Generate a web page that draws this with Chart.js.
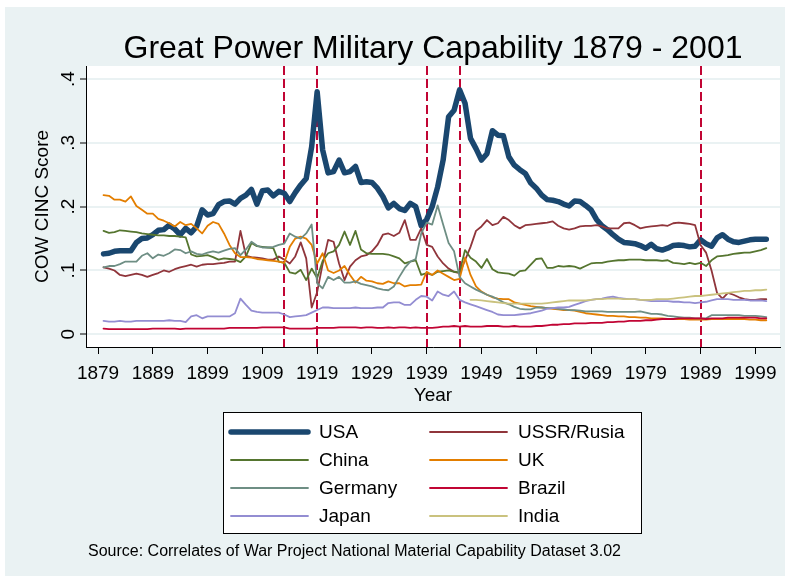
<!DOCTYPE html>
<html>
<head>
<meta charset="utf-8">
<script src="https://cdn.jsdelivr.net/npm/chart.js@4.4.0/dist/chart.umd.min.js"></script>
<style>
    html, body { margin: 0; padding: 0; background: #ffffff; }
</style>
</head>
<body>
<canvas id="cinc" width="788" height="579"></canvas>
<script>
const firstYear = 1880;
const indiaFirstYear = 1947;
const xTicks = [1879, 1889, 1899, 1909, 1919, 1929, 1939, 1949, 1959, 1969, 1979, 1989, 1999];
const yTicks = [0, 0.1, 0.2, 0.3, 0.4];
const yTickLabels = ["0", ".1", ".2", ".3", ".4"];
const warYears = [1913, 1919, 1939, 1945, 1989];

const countries = ["USA", "USSR/Rusia", "China", "UK", "Germany", "Brazil", "Japan", "India"];

// CINC scores, one value per year from 1880 to 2001
const usa = [
    .126, .127, .130, .131, .131, .131, .144, .150, .151, .156,
    .163, .164, .171, .165, .156, .166, .159, .169, .195, .187,
    .189, .203, .208, .209, .204, .213, .218, .227, .204, .225,
    .226, .217, .224, .221, .208, .222, .234, .244, .294, .380,
    .289, .253, .255, .273, .253, .255, .263, .238, .239, .238,
    .229, .216, .198, .205, .197, .194, .205, .200, .170, .180,
    .200, .231, .273, .341, .351, .383, .362, .307, .291, .273,
    .283, .319, .312, .311, .278, .265, .258, .252, .237, .229,
    .218, .211, .210, .208, .204, .201, .209, .208, .202, .195,
    .180, .170, .164, .156, .149, .144, .143, .142, .139, .135,
    .141, .134, .132, .135, .139, .140, .139, .137, .138, .148,
    .142, .138, .151, .156, .149, .145, .144, .146, .148, .149,
    .149, .149
];
const ussr = [
    .105, .103, .100, .093, .091, .093, .095, .093, .090, .093,
    .096, .100, .098, .102, .105, .107, .109, .106, .109, .110,
    .110, .111, .112, .114, .114, .162, .123, .121, .120, .119,
    .117, .117, .122, .117, .111, .122, .144, .119, .042, .066,
    .110, .148, .145, .111, .085, .106, .116, .122, .124, .130,
    .140, .156, .158, .154, .159, .179, .148, .148, .166, .140,
    .137, .122, .111, .103, .098, .096, .116, .137, .162, .169,
    .179, .171, .174, .184, .179, .171, .166, .171, .172, .173,
    .174, .175, .177, .170, .166, .164, .166, .169, .170, .170,
    .171, .169, .166, .166, .166, .174, .175, .171, .166, .168,
    .169, .170, .171, .170, .174, .175, .174, .173, .171, .140,
    .128, .100, .065, .056, .065, .062, .058, .055, .054, .054,
    .055, .055
];
const china = [
    .162, .159, .160, .163, .162, .161, .160, .158, .157, .156,
    .155, .155, .154, .154, .153, .152, .125, .122, .123, .124,
    .121, .117, .119, .118, .117, .113, .122, .143, .138, .137,
    .136, .135, .114, .112, .097, .095, .101, .085, .103, .088,
    .115, .127, .130, .140, .161, .140, .162, .133, .127, .126,
    .126, .126, .125, .122, .119, .111, .114, .116, .093, .096,
    .093, .098, .099, .100, .098, .097, .132, .120, .114, .104,
    .118, .102, .097, .096, .095, .092, .099, .100, .109, .118,
    .119, .104, .104, .107, .106, .107, .106, .103, .107, .111,
    .112, .112, .114, .115, .116, .116, .117, .117, .117, .116,
    .116, .116, .115, .116, .112, .111, .110, .112, .110, .112,
    .107, .116, .122, .123, .124, .126, .127, .128, .128, .130,
    .132, .135
];
const uk = [
    .218, .217, .211, .211, .208, .216, .201, .195, .189, .189,
    .181, .178, .174, .169, .176, .171, .173, .166, .158, .170,
    .176, .173, .158, .140, .127, .121, .121, .120, .118, .117,
    .116, .115, .114, .112, .137, .150, .153, .150, .140, .111,
    .127, .100, .096, .100, .107, .093, .081, .090, .084, .083,
    .080, .079, .083, .080, .080, .075, .077, .077, .078, .098,
    .093, .100, .095, .090, .085, .087, .120, .093, .075, .067,
    .062, .058, .056, .055, .055, .050, .048, .046, .044, .043,
    .042, .041, .040, .039, .038, .038, .037, .035, .033, .032,
    .031, .030, .029, .029, .028, .028, .027, .027, .026, .026,
    .025, .025, .025, .024, .024, .024, .024, .023, .023, .023,
    .023, .024, .024, .024, .024, .024, .024, .024, .023, .023,
    .022, .022
];
const germany = [
    .105, .107, .107, .110, .114, .114, .114, .123, .127, .119,
    .125, .123, .127, .133, .132, .127, .130, .126, .125, .128,
    .130, .128, .131, .134, .135, .124, .133, .145, .139, .136,
    .136, .137, .140, .142, .158, .153, .150, .158, .172, .080,
    .072, .090, .085, .090, .081, .081, .083, .079, .077, .075,
    .072, .070, .069, .075, .090, .104, .114, .118, .158, .175,
    .172, .202, .172, .143, .130, .090, .080, .075, .070, .066,
    .062, .059, .055, .050, .047, .043, .040, .039, .039, .042,
    .042, .041, .041, .040, .039, .038, .038, .037, .036, .036,
    .036, .036, .035, .035, .035, .035, .035, .035, .036, .034,
    .032, .032, .031, .029, .028, .027, .026, .026, .025, .025,
    .025, .030, .030, .030, .030, .030, .030, .029, .029, .029,
    .028, .027
];
const brazil = [
    .009, .008, .008, .008, .008, .008, .008, .008, .008, .009,
    .009, .009, .009, .009, .008, .009, .009, .009, .009, .009,
    .009, .009, .009, .010, .010, .010, .010, .010, .010, .011,
    .011, .011, .011, .011, .009, .009, .009, .009, .009, .010,
    .010, .010, .010, .011, .011, .011, .011, .010, .011, .011,
    .010, .010, .011, .010, .011, .011, .010, .011, .010, .010,
    .010, .011, .012, .012, .013, .012, .013, .012, .012, .012,
    .013, .013, .013, .012, .012, .013, .012, .012, .012, .013,
    .013, .014, .015, .015, .016, .016, .017, .017, .017, .018,
    .018, .018, .019, .019, .020, .020, .021, .021, .021, .022,
    .022, .023, .024, .024, .024, .025, .025, .025, .025, .025,
    .024, .025, .025, .025, .026, .026, .026, .026, .026, .026,
    .025, .025
];
const japan = [
    .021, .020, .020, .021, .020, .020, .021, .021, .021, .021,
    .021, .021, .022, .021, .021, .019, .028, .030, .025, .028,
    .028, .028, .028, .028, .033, .056, .046, .037, .035, .034,
    .034, .034, .034, .031, .027, .028, .029, .030, .034, .038,
    .042, .042, .041, .041, .041, .041, .042, .041, .041, .041,
    .042, .042, .049, .050, .050, .046, .046, .054, .060, .059,
    .053, .067, .062, .060, .067, .054, .050, .047, .044, .041,
    .038, .035, .031, .030, .030, .030, .031, .032, .033, .035,
    .037, .040, .041, .042, .042, .043, .046, .049, .052, .054,
    .055, .056, .058, .059, .057, .056, .055, .055, .054, .053,
    .052, .052, .052, .052, .051, .051, .050, .050, .049, .050,
    .051, .053, .055, .055, .055, .054, .054, .054, .053, .053,
    .053, .052
];
// India enters the data in 1947
const india = [
    .054, .054, .053,
    .052, .051, .050, .049, .048, .048, .048, .048, .048, .048,
    .048, .049, .050, .051, .052, .053, .053, .053, .053, .054,
    .055, .055, .056, .056, .056, .055, .055, .055, .054, .054,
    .054, .055, .055, .055, .056, .057, .058, .059, .060, .060,
    .061, .062, .063, .064, .065, .066, .067, .068, .068, .069,
    .069, .070
];

const seriesValues = [usa, ussr, china, uk, germany, brazil, japan, india];
const seriesStart = [firstYear, firstYear, firstYear, firstYear, firstYear, firstYear, firstYear, indiaFirstYear];
const colors = ["#1a476f", "#90353b", "#55752f", "#e37e00", "#6e8e84", "#c10534", "#938dd2", "#cac27e"];
const widths = [5.5, 1.8, 1.8, 1.8, 1.8, 1.8, 1.8, 1.8];

const fontFamily = "'Liberation Sans', Arial, Helvetica, sans-serif";
const bgColor = "#eaf2f3";

const datasets = countries.map((name, i) => ({
    label: name,
    data: seriesValues[i].map((v, k) => ({ x: seriesStart[i] + k, y: v })),
    borderColor: colors[i],
    backgroundColor: colors[i],
    borderWidth: widths[i],
    borderCapStyle: "round",
    borderJoinStyle: "round",
    pointRadius: 0,
    tension: 0,
    fill: false,
    // Stata draws the first series underneath the rest
    order: countries.length - i,
}));

const stataLook = {
    id: "stataLook",
    beforeDraw(chart) {
        const ctx = chart.ctx;
        const { left, top, right, bottom } = chart.chartArea;
        ctx.save();
        ctx.fillStyle = "#ffffff";
        ctx.fillRect(0, 0, chart.width, chart.height);
        ctx.fillStyle = bgColor;
        ctx.fillRect(5, 7, 780, 569);
        ctx.fillStyle = "#ffffff";
        ctx.fillRect(left, top, right - left, bottom - top);
        ctx.restore();
    },
    beforeDatasetsDraw(chart) {
        // dashed lines for the war years
        const ctx = chart.ctx;
        const xs = chart.scales.x;
        const { top, bottom } = chart.chartArea;
        ctx.save();
        ctx.strokeStyle = "#c10534";
        ctx.lineWidth = 2;
        ctx.setLineDash([9, 4]);
        warYears.forEach((yr) => {
            const px = Math.round(xs.getPixelForValue(yr));
            ctx.beginPath();
            ctx.moveTo(px, top);
            ctx.lineTo(px, bottom);
            ctx.stroke();
        });
        ctx.restore();
    },
    afterDraw(chart) {
        const ctx = chart.ctx;
        const ys = chart.scales.y;
        const { left, right, top, bottom } = chart.chartArea;
        ctx.save();
        ctx.fillStyle = "#000000";

        // title, centred over the plot region
        ctx.font = "32px " + fontFamily;
        ctx.textAlign = "center";
        ctx.textBaseline = "alphabetic";
        ctx.fillText("Great Power Military Capability 1879 - 2001", (left + right) / 2, 58);

        // rotated y tick labels and y title
        ctx.font = "19px " + fontFamily;
        yTicks.forEach((v, i) => {
            ctx.save();
            ctx.translate(74, ys.getPixelForValue(v));
            ctx.rotate(-Math.PI / 2);
            ctx.fillText(yTickLabels[i], 0, 0);
            ctx.restore();
        });
        ctx.save();
        ctx.translate(48, (top + bottom) / 2);
        ctx.rotate(-Math.PI / 2);
        ctx.fillText("COW CINC Score", 0, 0);
        ctx.restore();

        // legend box
        const box = { x: 223, y: 412, w: 418, h: 121 };
        ctx.fillStyle = "#ffffff";
        ctx.fillRect(box.x, box.y, box.w, box.h);
        ctx.strokeStyle = "#000000";
        ctx.lineWidth = 1;
        ctx.strokeRect(box.x + 0.5, box.y + 0.5, box.w, box.h);

        const colLine = [231, 430];
        const colText = [319, 518];
        const lineLen = 77;
        ctx.textAlign = "left";
        ctx.textBaseline = "middle";
        ctx.lineCap = "round";
        chart.data.datasets.forEach((ds, i) => {
            const row = Math.floor(i / 2);
            const col = i % 2;
            const cy = 432 + row * 28;
            ctx.strokeStyle = ds.borderColor;
            ctx.lineWidth = ds.borderWidth;
            ctx.beginPath();
            ctx.moveTo(colLine[col], cy);
            ctx.lineTo(colLine[col] + lineLen, cy);
            ctx.stroke();
            ctx.fillStyle = "#000000";
            ctx.fillText(ds.label, colText[col], cy + 1);
        });

        // source note
        ctx.font = "16px " + fontFamily;
        ctx.textBaseline = "alphabetic";
        ctx.fillText("Source: Correlates of War Project National Material Capability Dataset 3.02", 88, 556);
        ctx.restore();
    },
};

new Chart(document.getElementById("cinc"), {
    type: "line",
    data: { datasets: datasets },
    options: {
        responsive: false,
        animation: false,
        events: [],
        layout: { padding: { left: 0, right: 8, top: 66, bottom: 172 } },
        plugins: {
            legend: { display: false },
            tooltip: { enabled: false },
            title: { display: false },
        },
        scales: {
            x: {
                type: "linear",
                min: 1876.8,
                max: 2003.5,
                afterBuildTicks: (s) => { s.ticks = xTicks.map((v) => ({ value: v })); },
                afterFit: (s) => { s.height = 60; },
                ticks: {
                    autoSkip: false,
                    maxRotation: 0,
                    minRotation: 0,
                    padding: 8,
                    color: "#000000",
                    font: { family: fontFamily, size: 19 },
                    callback: (v) => String(v),
                },
                grid: {
                    drawOnChartArea: false,
                    drawTicks: true,
                    tickLength: 7,
                    tickColor: "#000000",
                    tickWidth: 1,
                },
                border: { display: true, color: "#000000", width: 1 },
                title: {
                    display: true,
                    text: "Year",
                    color: "#000000",
                    font: { family: fontFamily, size: 19 },
                    padding: 0,
                },
            },
            y: {
                type: "linear",
                min: -0.0199,
                max: 0.4204,
                afterBuildTicks: (s) => { s.ticks = yTicks.map((v) => ({ value: v })); },
                afterFit: (s) => { s.width = 86; },
                ticks: { callback: () => "", padding: 0 },
                grid: {
                    color: bgColor,
                    lineWidth: 2,
                    drawTicks: true,
                    tickLength: 6,
                    tickColor: "#000000",
                    tickWidth: 1,
                },
                border: { display: true, color: "#000000", width: 1 },
            },
        },
    },
    plugins: [stataLook],
});
</script>
</body>
</html>
